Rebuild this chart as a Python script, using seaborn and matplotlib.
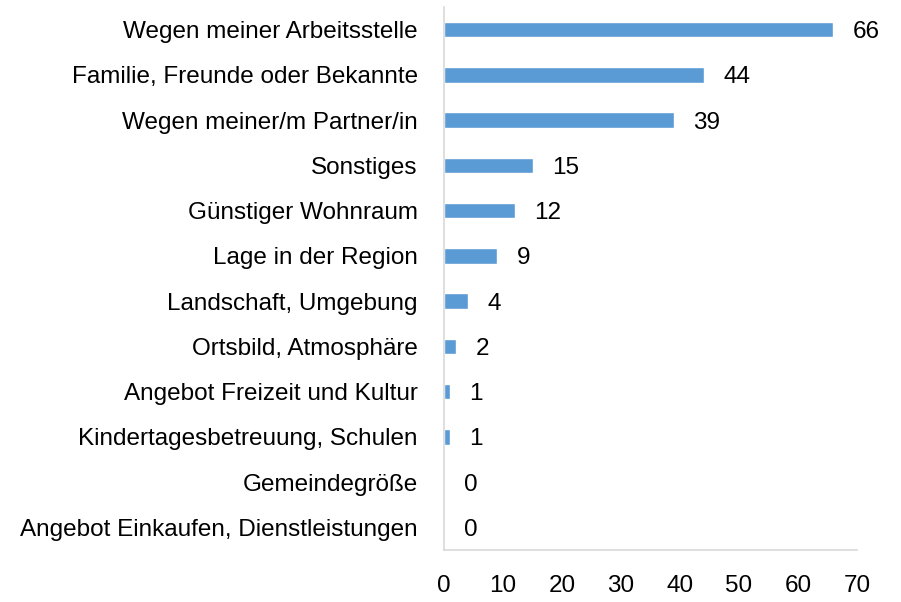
import matplotlib
matplotlib.use("Agg")
import matplotlib.pyplot as plt
import pandas as pd
import seaborn as sns

categories = [
    "Wegen meiner Arbeitsstelle",
    "Familie, Freunde oder Bekannte",
    "Wegen meiner/m Partner/in",
    "Sonstiges",
    "Günstiger Wohnraum",
    "Lage in der Region",
    "Landschaft, Umgebung",
    "Ortsbild, Atmosphäre",
    "Angebot Freizeit und Kultur",
    "Kindertagesbetreuung, Schulen",
    "Gemeindegröße",
    "Angebot Einkaufen, Dienstleistungen",
]
counts = [66, 44, 39, 15, 12, 9, 4, 2, 1, 1, 0, 0]
x_ticks = [0, 10, 20, 30, 40, 50, 60, 70]

sns.set_theme(style="white")
plt.rcParams["font.family"] = ["Liberation Sans Narrow", "Liberation Sans", "DejaVu Sans"]

df = pd.DataFrame({"reason": categories, "count": counts})

fig = plt.figure(figsize=(9.01, 6.02), dpi=100)
ax = fig.add_axes([0.493, 0.0864, 0.458, 0.902])
sns.barplot(data=df, y="reason", x="count", orient="h", color="#5B9BD5",
            saturation=1, width=0.34, ax=ax)

labels = ax.bar_label(ax.containers[0], fmt="%d", padding=14, fontsize=17.5, color="black")
for t in labels:
    t.set_verticalalignment("center_baseline")

ax.set_xlim(0, 70)
ax.set_ylim(11.5, -0.5)
ax.set_xticks(x_ticks)
ax.set_xlabel("")
ax.set_ylabel("")
ax.tick_params(axis="both", length=0, labelsize=17.5, colors="black")
ax.tick_params(axis="x", pad=18)
ax.tick_params(axis="y", pad=19)
for side in ["top", "right"]:
    ax.spines[side].set_visible(False)
for side in ["left", "bottom"]:
    ax.spines[side].set_color("#D9D9D9")
    ax.spines[side].set_linewidth(1.2)

fig.savefig("out.png", dpi=100)
plt.close(fig)
